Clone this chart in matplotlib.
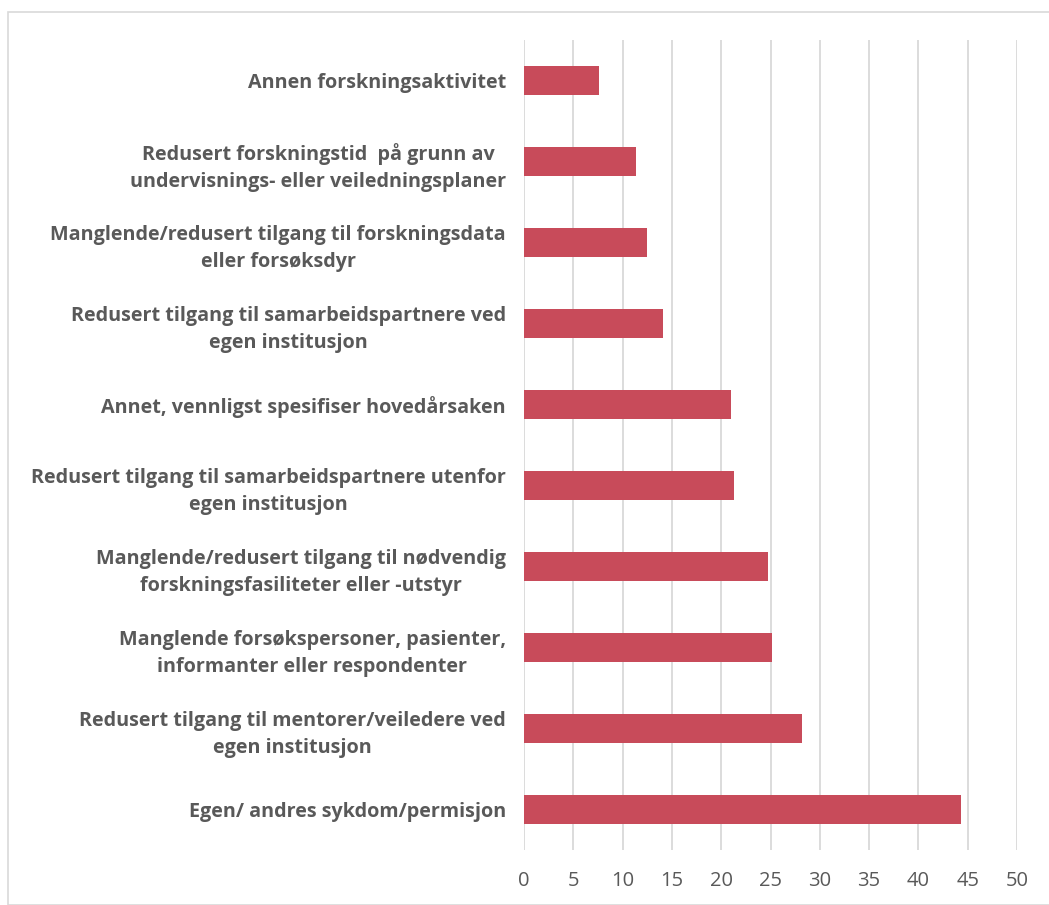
import matplotlib.pyplot as plt
from matplotlib.patches import Rectangle

categories = [
    'Egen/ andres sykdom/permisjon',
    'Redusert tilgang til mentorer/veiledere ved\negen institusjon',
    'Manglende forsøkspersoner, pasienter,\ninformanter eller respondenter',
    'Manglende/redusert tilgang til nødvendig\nforskningsfasiliteter eller -utstyr',
    'Redusert tilgang til samarbeidspartnere utenfor\negen institusjon',
    'Annet, vennligst spesifiser hovedårsaken',
    'Redusert tilgang til samarbeidspartnere ved\negen institusjon',
    'Manglende/redusert tilgang til forskningsdata\neller forsøksdyr',
    'Redusert forskningstid  på grunn av\nundervisnings- eller veiledningsplaner',
    'Annen forskningsaktivitet',
]
values = [44.3, 28.2, 25.2, 24.7, 21.3, 21.0, 14.1, 12.5, 11.4, 7.6]
ticks = list(range(0, 55, 5))

plt.rcParams['font.family'] = ['Open Sans', 'DejaVu Sans']

fig = plt.figure(figsize=(10.49, 9.05), dpi=100)
fig.patches.append(Rectangle((8 / 1049, 0), 1.0, 1 - 12 / 905, transform=fig.transFigure,
                             fill=False, edgecolor='#d9d9d9', linewidth=1.2))
ax = fig.add_axes([524 / 1049, 55 / 905, 493 / 1049, 810 / 905])

ax.barh(range(len(values)), values, height=0.36, color='#c84b5a', zorder=3)
ax.set_xlim(0, 50)
ax.set_ylim(-0.5, len(values) - 0.5)
ax.set_xticks(ticks)
ax.set_xticklabels([str(t) for t in ticks], fontsize=14.5, color='#595959')
ax.set_yticks(range(len(values)))
ax.set_yticklabels(categories, fontsize=14.2, fontweight='bold', color='#595959',
                   ha='right', multialignment='center', linespacing=1.45)
ax.tick_params(axis='y', length=0, pad=13)
ax.tick_params(axis='x', length=0, pad=15)
ax.grid(axis='x', color='#d9d9d9', linewidth=1.3, zorder=0)
for s in ax.spines.values():
    s.set_visible(False)

fig.savefig('out.png', dpi=100)
